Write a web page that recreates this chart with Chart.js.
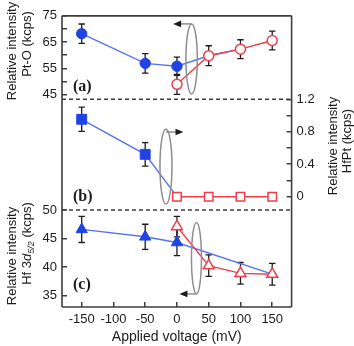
<!DOCTYPE html>
<html>
<head>
<meta charset="utf-8">
<script src="https://cdn.jsdelivr.net/npm/chart.js@4.4.1/dist/chart.umd.min.js"></script>
<style>
  html, body { margin: 0; padding: 0; background: #fff; }
  #wrap { position: relative; width: 354px; height: 346px; }
  #wrap canvas { position: absolute; left: 0; top: 0; }
</style>
</head>
<body>
<div id="wrap">
  <canvas id="panel-a" width="354" height="346"></canvas>
  <canvas id="panel-b" width="354" height="346"></canvas>
  <canvas id="panel-c" width="354" height="346"></canvas>
</div>
<script>
// Voltages (mV)
const voltageBlue = [-150, -50, 0]
const voltageRed = [0, 50, 100, 150]
const voltageTicks = [-150, -100, -50, 0, 50, 100, 150]

// (a) Pt-O intensity (kcps)
const ptoBlue = [68.2, 56.9, 55.8]
const ptoBlueErr = [3.7, 3.7, 3.5]
const ptoRed = [48.9, 59.8, 62.3, 65.6]
const ptoRedErr = [3.8, 3.8, 3.6, 3.6]
const ptoTicks = [45, 50, 55, 60, 65, 70, 75]
const ptoTickLabels = ['45', '', '55', '', '65', '', '75']

// (b) HfPt intensity (kcps)
const hfptBlue = [0.954, 0.522]
const hfptBlueErr = [0.15, 0.145]
const hfptRed = [0, 0, 0, 0]
const hfptTicks = [0, 0.2, 0.4, 0.6, 0.8, 1.0, 1.2]
const hfptTickLabels = ['0', '', '0.4', '', '0.8', '', '1.2']

// (c) Hf 3d5/2 intensity (kcps)
const hfBlue = [46.6, 45.3, 44.3]
const hfBlueErr = [2.3, 2.2, 2.3]
const hfRed = [47.1, 40.25, 38.9, 38.75]
const hfRedErr = [1.8, 1.9, 1.9, 1.9]
const hfTicks = [35, 40, 45, 50]
const hfTickLabels = ['35', '40', '45', '50']

const FONT = "'Liberation Sans', Arial, sans-serif"
const SERIF = "'Liberation Serif', 'Times New Roman', serif"
const BLUE = '#2143e6'
const BLUE_LINE = '#5574ef'
const RED = '#ee3e4a'
const INK = '#1c1c1c'
const FRAME = '#3d3d3d'
const GREY = '#8e8e8e'

const points = (xs, ys) => xs.map((x, i) => ({ x: x, y: ys[i] }))

// error bars from dataset.errors
const errorBars = {
  id: 'errorBars',
  beforeDatasetsDraw(chart) {
    const ctx = chart.ctx
    chart.data.datasets.forEach((ds, di) => {
      if (!ds.errors) return
      const ys = chart.scales[chart.getDatasetMeta(di).yAxisID]
      ctx.save()
      ctx.strokeStyle = INK
      ctx.lineWidth = 1.3
      ds.data.forEach((p, i) => {
        const e = ds.errors[i]
        if (e == null) return
        const x = chart.scales.x.getPixelForValue(p.x)
        const y1 = ys.getPixelForValue(p.y + e)
        const y2 = ys.getPixelForValue(p.y - e)
        ctx.beginPath()
        ctx.moveTo(x, y1); ctx.lineTo(x, y2)
        ctx.moveTo(x - 3.2, y1); ctx.lineTo(x + 3.2, y1)
        ctx.moveTo(x - 3.2, y2); ctx.lineTo(x + 3.2, y2)
        ctx.stroke()
      })
      ctx.restore()
    })
  }
}

// plot frame: solid / dashed sides
const frame = {
  id: 'frame',
  afterDatasetsDraw(chart, args, opts) {
    const { left, right, top, bottom } = chart.chartArea
    const ctx = chart.ctx
    const seg = {
      top: [left, top, right, top],
      bottom: [left, bottom, right, bottom],
      left: [left, top, left, bottom],
      right: [right, top, right, bottom],
    }
    ctx.save()
    ctx.strokeStyle = FRAME
    ctx.lineWidth = 1.6
    ;(opts.solid || []).forEach(s => {
      const [a, b, c, d] = seg[s]
      ctx.beginPath(); ctx.moveTo(a, b); ctx.lineTo(c, d); ctx.stroke()
    })
    ctx.setLineDash([4, 3])
    ;(opts.dashed || []).forEach(s => {
      const [a, b, c, d] = seg[s]
      ctx.beginPath(); ctx.moveTo(a, b); ctx.lineTo(c, d); ctx.stroke()
    })
    ctx.restore()
  }
}

function rotated(ctx, x, y, parts) {
  ctx.save()
  ctx.translate(x, y)
  ctx.rotate(-Math.PI / 2)
  ctx.textBaseline = 'middle'
  ctx.textAlign = 'left'
  let w = 0
  parts.forEach(p => { ctx.font = p.font; w += ctx.measureText(p.text).width })
  let cx = -w / 2
  parts.forEach(p => {
    ctx.font = p.font
    ctx.fillText(p.text, cx, p.dy || 0)
    cx += ctx.measureText(p.text).width
  })
  ctx.restore()
}

// rotation ellipse + arrow, panel letter, axis titles
const decor = {
  id: 'decor',
  afterDatasetsDraw(chart, args, opts) {
    const ctx = chart.ctx
    const xs = chart.scales.x
    const ys = chart.scales.y
    const r = opts.rotor
    if (r) {
      const cx = xs.getPixelForValue(r.x)
      const cy = ys.getPixelForValue(r.y)
      ctx.save()
      ctx.strokeStyle = GREY
      ctx.lineWidth = 1.5
      ctx.beginPath()
      ctx.ellipse(cx, cy, r.rx, r.ry, 0, 0, 2 * Math.PI)
      ctx.stroke()
      const ay = (r.end === 'top' ? cy - r.ry : cy + r.ry) + (r.dy || 0)
      const tip = cx + r.dir * r.len
      ctx.beginPath()
      ctx.moveTo(cx, ay)
      ctx.lineTo(tip - r.dir * 6, ay)
      ctx.stroke()
      ctx.fillStyle = INK
      ctx.beginPath()
      ctx.moveTo(tip, ay)
      ctx.lineTo(tip - r.dir * 8, ay - 3.3)
      ctx.lineTo(tip - r.dir * 8, ay + 3.3)
      ctx.closePath()
      ctx.fill()
      ctx.restore()
    }
    if (opts.letter) {
      ctx.save()
      ctx.fillStyle = INK
      ctx.font = 'bold 16px ' + SERIF
      ctx.textAlign = 'left'
      ctx.textBaseline = 'middle'
      ctx.fillText(opts.letter.text, xs.getPixelForValue(opts.letter.x), ys.getPixelForValue(opts.letter.y))
      ctx.restore()
    }
    ctx.save()
    ctx.fillStyle = INK
    ;(opts.titles || []).forEach(t => rotated(ctx, t.x, t.y, t.parts))
    if (opts.xTitle) {
      const { left, right } = chart.chartArea
      ctx.font = '14px ' + FONT
      ctx.textAlign = 'center'
      ctx.textBaseline = 'middle'
      ctx.fillText(opts.xTitle, (left + right) / 2, 337.5)
    }
    ctx.restore()
  }
}

Chart.register(errorBars, frame, decor)

const xScale = show => ({
  type: 'linear',
  display: show,
  min: -181,
  max: 180.5,
  afterBuildTicks: s => { s.ticks = voltageTicks.map(v => ({ value: v })) },
  afterFit: s => { s.height = show ? 39 : 0 },
  ticks: { color: INK, font: { family: FONT, size: 13 }, padding: 9.5, autoSkip: false, maxRotation: 0 },
  grid: { drawOnChartArea: false, drawTicks: true, tickLength: -5, color: FRAME, lineWidth: 1.5 },
  border: { display: false },
})

const yScale = (pos, min, max, tickValues, tickLabels, width) => ({
  type: 'linear',
  position: pos,
  min: min,
  max: max,
  afterBuildTicks: s => { s.ticks = tickValues.map(v => ({ value: v })) },
  afterFit: s => { s.width = width },
  ticks: {
    color: INK,
    font: { family: FONT, size: 13, lineHeight: 0.9 },
    padding: 10,
    autoSkip: false,
    callback: (v, i) => tickLabels[i],
  },
  grid: { drawOnChartArea: false, drawTicks: true, tickLength: -5, color: FRAME, lineWidth: 1.5 },
  border: { display: false },
})

const blueSet = (data, radius, errors, style, size) => ({
  data: data,
  showLine: true,
  borderColor: BLUE_LINE,
  borderWidth: 1.4,
  pointStyle: style,
  pointRadius: radius.map(r => r * size),
  pointBackgroundColor: BLUE,
  pointBorderColor: BLUE,
  pointBorderWidth: 1,
  errors: errors,
  order: 1,
})

const redSet = (data, errors, style, size) => ({
  data: data,
  showLine: true,
  borderColor: RED,
  borderWidth: 1.4,
  pointStyle: style,
  pointRadius: size,
  pointBackgroundColor: '#fff',
  pointBorderColor: RED,
  pointBorderWidth: 1.5,
  errors: errors,
  order: 0,
})

const baseOptions = (padding, scales, plugins) => ({
  responsive: false,
  animation: false,
  devicePixelRatio: 1,
  layout: { padding: padding },
  scales: scales,
  plugins: Object.assign({ legend: { display: false }, tooltip: { enabled: false } }, plugins),
})

const titleFont = '13px ' + FONT

// (a)
new Chart(document.getElementById('panel-a').getContext('2d'), {
  type: 'scatter',
  data: {
    datasets: [
      blueSet(
        points(voltageBlue.concat(voltageRed.slice(1, 3)), ptoBlue.concat(ptoRed.slice(1, 3))),
        [1, 1, 1, 0, 0], ptoBlueErr, 'circle', 5.2),
      redSet(points(voltageRed, ptoRed), ptoRedErr, 'circle', 5),
    ],
  },
  options: baseOptions(
    { left: 0, top: 6, right: 62.4, bottom: 246.7 },
    { x: xScale(false), y: yScale('left', 43.2, 75, ptoTicks, ptoTickLabels, 62) },
    {
      frame: { solid: ['top', 'left', 'right'], dashed: ['bottom'] },
      decor: {
        rotor: { x: 23.1, y: 58.6, rx: 5.7, ry: 35, end: 'top', dir: -1, len: 18.5 },
        letter: { text: '(a)', x: -163.7, y: 48.1 },
        titles: [
          { x: 12, y: 51, parts: [{ text: 'Relative intensity', font: titleFont }] },
          { x: 27, y: 44, parts: [{ text: 'Pt-O (kcps)', font: titleFont }] },
        ],
      },
    }
  ),
})

// (b)
new Chart(document.getElementById('panel-b').getContext('2d'), {
  type: 'scatter',
  data: {
    datasets: [
      blueSet(
        points(voltageBlue.slice(0, 2).concat(voltageRed[0]), hfptBlue.concat(hfptRed[0])),
        [1, 1, 0], hfptBlueErr, 'rect', 7),
      redSet(points(voltageRed, hfptRed), null, 'rect', 6),
    ],
  },
  options: baseOptions(
    { left: 62, top: 99.3, right: 0, bottom: 136 },
    { x: xScale(false), y: yScale('right', -0.164, 1.2, hfptTicks, hfptTickLabels, 62.4) },
    {
      frame: { solid: ['left', 'right'], dashed: ['bottom'] },
      decor: {
        rotor: { x: -17.3, y: 0.372, rx: 6, ry: 37.5, end: 'top', dy: 3, dir: 1, len: 17.5 },
        letter: { text: '(b)', x: -163.7, y: 0 },
        titles: [
          { x: 333, y: 146, parts: [{ text: 'Relative intensity', font: titleFont }] },
          { x: 347, y: 141, parts: [{ text: 'HfPt (kcps)', font: titleFont }] },
        ],
      },
    }
  ),
})

// (c)
new Chart(document.getElementById('panel-c').getContext('2d'), {
  type: 'scatter',
  data: {
    datasets: [
      blueSet(
        points(voltageBlue.concat(voltageRed[3]), hfBlue.concat(hfRed[3])),
        [1, 1, 1, 0], hfBlueErr, 'triangle', 6.5),
      redSet(points(voltageRed, hfRed), hfRedErr, 'triangle', 6.3),
    ],
  },
  options: baseOptions(
    { left: 0, top: 210, right: 62.4, bottom: 0 },
    { x: xScale(true), y: yScale('left', 33.0, 50, hfTicks, hfTickLabels, 62) },
    {
      frame: { solid: ['left', 'right', 'bottom'] },
      decor: {
        rotor: { x: 30.7, y: 41.55, rx: 5, ry: 35.7, end: 'bottom', dir: -1, len: 17 },
        letter: { text: '(c)', x: -163.7, y: 36.9 },
        titles: [
          { x: 12, y: 256, parts: [{ text: 'Relative intensity', font: titleFont }] },
          {
            x: 27, y: 243.5,
            parts: [
              { text: 'Hf 3', font: titleFont },
              { text: 'd', font: 'italic ' + titleFont },
              { text: '5/2', font: 'italic 9px ' + FONT, dy: 4 },
              { text: ' (kcps)', font: titleFont },
            ],
          },
        ],
        xTitle: 'Applied voltage (mV)',
      },
    }
  ),
})
</script>
</body>
</html>
